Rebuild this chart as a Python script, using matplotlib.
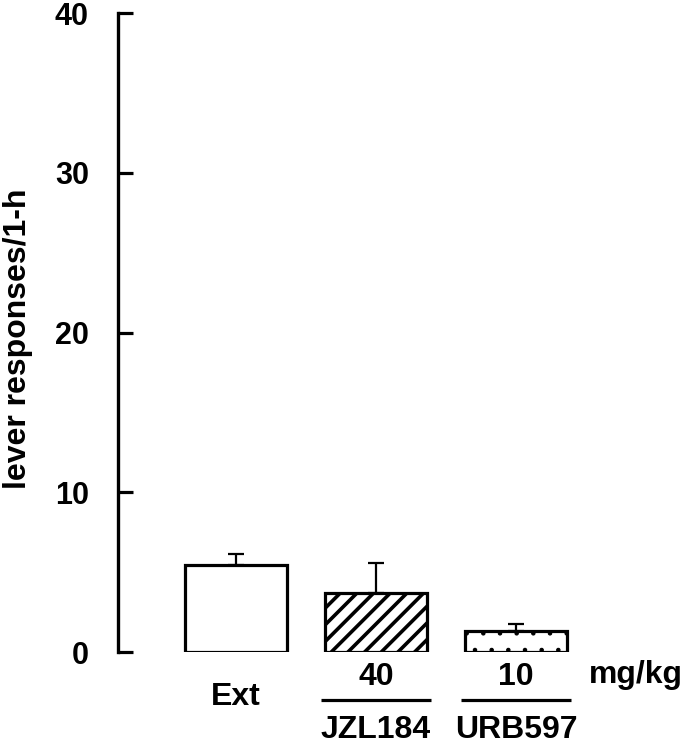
import matplotlib
matplotlib.use("Agg")
import matplotlib.pyplot as plt
import numpy as np

# ---- data ----
groups = ["Ext", "JZL184", "URB597"]
doses = ["", "40", "10"]
means = [5.45, 3.68, 1.32]
sems = [0.70, 1.87, 0.42]
dose_unit = "mg/kg"
y_ticks = [0, 10, 20, 30, 40]
y_label = "lever responses/1-h"

plt.rcParams['font.family'] = ['Liberation Sans', 'DejaVu Sans']
plt.rcParams['font.weight'] = 'bold'

fig = plt.figure(figsize=(6.84, 7.53), dpi=100)
ax = fig.add_axes([118/684, 101/753, 482/684, 638.7/753])

x = np.arange(len(groups))
hatches = [None, '//', '.']
hatch_lw = [1.0, 2.6, 0.8]
for xi, m, h, hl in zip(x, means, hatches, hatch_lw):
    with plt.rc_context({'hatch.linewidth': hl, 'hatch.color': 'black'}):
        ax.bar(xi, m, width=0.73, color='white', edgecolor='black',
               linewidth=2.3, hatch=h, zorder=3)

ax.errorbar(x, means, yerr=[np.zeros(len(sems)), sems], fmt='none',
            ecolor='black', elinewidth=1.6, capsize=5.5, capthick=1.6,
            zorder=2)

ax.set_ylim(0, 40)
ax.set_xlim(-0.843, 2.6)
ax.set_yticks(y_ticks)
ax.set_yticklabels([str(t) for t in y_ticks], fontsize=22, fontweight='bold')
ax.tick_params(axis='y', direction='in', length=10.8, width=2.3, pad=21)
ax.set_xticks([])
for s in ['top', 'right', 'bottom']:
    ax.spines[s].set_visible(False)
ax.spines['left'].set_linewidth(2.4)

ax.set_ylabel(y_label, fontsize=23, fontweight='bold')
ax.yaxis.set_label_coords(-0.176, 0.49)

tr = ax.get_xaxis_transform()
fs = 23
ax.text(x[0], -0.070, groups[0], transform=tr, ha='center', va='center',
        fontsize=fs, fontweight='bold')
for xi, g, d in zip(x[1:], groups[1:], doses[1:]):
    ax.text(xi, -0.039, d, transform=tr, ha='center', va='center',
            fontsize=fs, fontweight='bold')
    ax.text(xi, -0.122, g, transform=tr, ha='center', va='center',
            fontsize=fs, fontweight='bold')
    ax.plot([xi - 0.39, xi + 0.39], [-0.075, -0.075], transform=tr,
            color='black', linewidth=2.3, clip_on=False, solid_capstyle='butt')
ax.text(2.857, -0.036, dose_unit, transform=tr, ha='center', va='center',
        fontsize=fs, fontweight='bold')

fig.savefig("out.png", dpi=100)
